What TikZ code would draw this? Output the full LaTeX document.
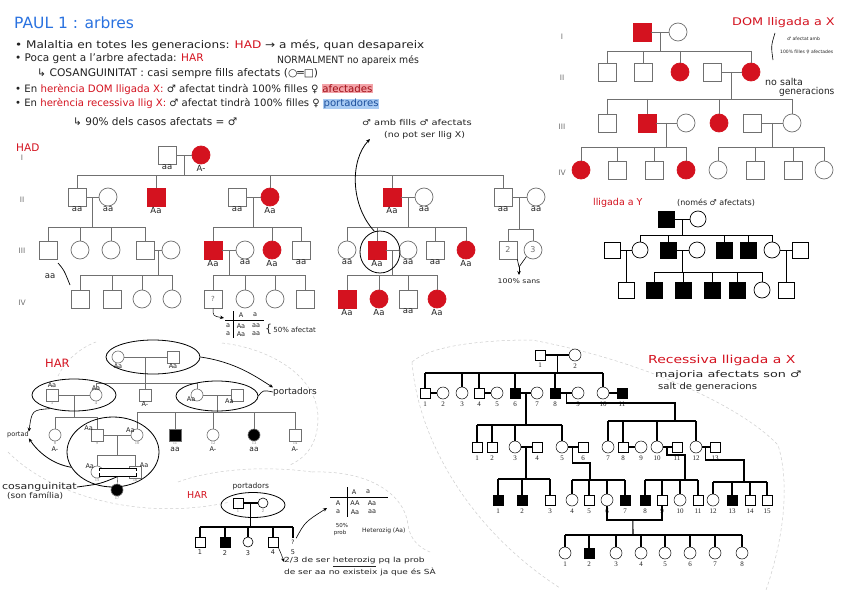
\documentclass[tikz,border=0pt]{standalone}
\usepackage{fontspec}
\usepackage{graphicx}
\setmainfont{DejaVu Sans}
\newfontfamily\numf{Liberation Serif}
\usetikzlibrary{shapes.geometric,arrows.meta,positioning,calc}
\definecolor{affred}{HTML}{D4121F}
\definecolor{titleblue}{HTML}{2A72E0}
\definecolor{pedgray}{HTML}{707070}
\definecolor{ink}{HTML}{222222}
\definecolor{hlred}{HTML}{F3A3A8}
\definecolor{hlblue}{HTML}{A8CBF3}
\definecolor{cutgray}{HTML}{CDCDCD}
\newcommand{\hlr}[1]{{\setlength{\fboxsep}{0.6pt}\colorbox{hlred}{\textcolor{affred!75!black}{#1}}}}
\newcommand{\hlb}[1]{{\setlength{\fboxsep}{0.6pt}\colorbox{hlblue}{\textcolor{titleblue!70!black}{#1}}}}
\newcommand{\hx}[2]{\scalebox{#1}[1]{#2}}

\begin{document}
\begin{tikzpicture}[x=1pt, y=-1pt,
  text=ink,
  >={Stealth[length=4pt, width=3.5pt]},
  hand/.style={anchor=west, inner sep=0pt, font=\fontsize{10.5}{12}\selectfont},
  note/.style={anchor=west, inner sep=0pt, font=\fontsize{7.5}{9}\selectfont},
  redt/.style={text=affred, inner sep=0pt, anchor=west},
  geno/.style={font=\fontsize{8.5}{8.5}\selectfont, inner sep=0.4pt},
  genlbl/.style={text=pedgray, font=\fontsize{7.5}{8}\selectfont},
  tinyn/.style={font=\fontsize{4.5}{5}\selectfont\numf, text=gray, inner sep=0.4pt},
  numl/.style={font=\fontsize{7}{8}\selectfont\numf, inner sep=0.5pt},
  sq/.style={rectangle, draw, fill=white, minimum size=#1pt, inner sep=0pt},
  sq/.default=18,
  ci/.style={circle, draw, fill=white, minimum size=#1pt, inner sep=0pt},
  ci/.default=18,
  aff/.style={fill=affred, draw=affred},
  blk/.style={fill=black},
  ring/.style={ellipse, draw=black, line width=0.8pt, inner sep=0pt},
  cut/.style={draw=cutgray, line width=0.5pt, dash pattern=on 3pt off 2.5pt}
]
\fill[white] (0,0) rectangle (848,599);
\useasboundingbox (0,0) rectangle (848,599);

% ---------- Notes ----------
\node[hand, text=titleblue, font=\fontsize{15.5}{17}\selectfont] (title) at (14,23) {PAUL 1 : arbres};
\node[hand] (l1) at (15,45) {\hx{1.15}{• Malaltia en totes les generacions: \textcolor{affred}{HAD} → a més, quan desapareix}};
\node[hand] (l2) at (15,59) {• Poca gent a l'arbre afectada: \textcolor{affred}{HAR}};
\node[hand, font=\fontsize{10}{12}\selectfont] (l2b) at (277,61) {\hx{0.93}{NORMALMENT no apareix més}};
\node[hand] (l3) at (37,74) {\hx{1.02}{↳ COSANGUINITAT : casi sempre fills afectats (○═□)}};
\node[hand, font=\fontsize{10.2}{12}\selectfont] (l4) at (15,89) {• En \textcolor{affred}{herència DOM lligada X:} ♂ afectat tindrà 100\% filles ♀ \hlr{afectades}};
\node[hand, font=\fontsize{10.1}{12}\selectfont] (l5) at (15,104) {• En \textcolor{affred}{herència recessiva llig X:} ♂ afectat tindrà 100\% filles ♀ \hlb{portadores}};
\node[hand] (l6) at (73,122) {↳ 90\% dels casos afectats = ♂};

% ---------- HAD ----------
\node[redt, font=\fontsize{10.5}{11}\selectfont] (hadt) at (16,148) {HAD};
\node[genlbl] (hgI) at (22,158) {I};
\node[genlbl] (hgII) at (22,200) {II};
\node[genlbl] (hgIII) at (22,251) {III};
\node[genlbl] (hgIV) at (22,303) {IV};

\begin{scope}[draw=pedgray, line width=0.7pt]
\node[sq, label={[geno]below:aa}] (hI1) at (167,155) {};
\node[ci, aff, label={[geno]below:A-}] (hI2) at (201,155) {};
\draw (hI1) -- (hI2);
\coordinate (hsI) at (184,175);
\draw ($(hI1)!.5!(hI2)$) -- (hsI);

\node[sq, label={[geno]below:aa}] (hII1) at (77,197) {};
\node[ci, label={[geno]below:aa}] (hII2) at (108,197) {};
\node[sq, aff, label={[geno]below:Aa}] (hII3) at (156,197) {};
\node[sq, label={[geno]below:aa}] (hII4) at (237,197) {};
\node[ci, aff, label={[geno]below:Aa}] (hII5) at (270,197) {};
\node[sq, aff, label={[geno]below:Aa}] (hII6) at (392,197) {};
\node[ci, label={[geno]below:aa}] (hII7) at (424,197) {};
\node[sq, label={[geno]below:aa}] (hII8) at (503,197) {};
\node[ci, label={[geno]below:aa}] (hII9) at (536,197) {};
\draw (hII1.north |- hsI) -- (hII8.north |- hsI);
\foreach \k in {hII1,hII3,hII5,hII6,hII8} \draw (\k.north |- hsI) -- (\k);
\draw (hII1) -- (hII2) (hII4) -- (hII5) (hII6) -- (hII7) (hII8) -- (hII9);

% generation III
\coordinate (hsA) at (92.5,227);
\coordinate (hsB) at (253.5,227);
\coordinate (hsC) at (408,227);
\coordinate (hsD) at (519.5,229);
\draw ($(hII1)!.5!(hII2)$) -- (hsA);
\draw ($(hII4)!.5!(hII5)$) -- (hsB);
\draw ($(hII6)!.5!(hII7)$) -- (hsC);
\draw ($(hII8)!.5!(hII9)$) -- (hsD);
\node[sq] (hIII1) at (48,250) {};
\node[ci] (hIII2) at (80,250) {};
\node[ci] (hIII3) at (111,250) {};
\node[sq] (hIII4) at (145,250) {};
\node[ci] (hIII5) at (171,250) {};
\node[sq, aff, label={[geno]below:Aa}] (hIII6) at (213,250) {};
\node[ci, label={[geno]below:aa}] (hIII7) at (245,250) {};
\node[ci, aff, label={[geno]below:Aa}] (hIII8) at (272,250) {};
\node[sq, label={[geno]below:aa}] (hIII9) at (301,250) {};
\node[ci, label={[geno]below:aa}] (hIII10) at (347,250) {};
\node[sq, aff, label={[geno]below:Aa}] (hIII11) at (377,250) {};
\node[ci, label={[geno]below:aa}] (hIII12) at (408,250) {};
\node[sq, label={[geno]below:aa}] (hIII13) at (435,250) {};
\node[ci, aff, label={[geno]below:Aa}] (hIII14) at (466,250) {};
\node[sq, font=\fontsize{8}{8}\selectfont, text=pedgray] (hIII15) at (508,250) {2};
\node[ci, font=\fontsize{8}{8}\selectfont, text=pedgray] (hIII16) at (533,250) {3};
\draw (hIII1.north |- hsA) -- (hIII4.north |- hsA);
\foreach \k in {hIII1,hIII2,hIII3,hIII4} \draw (\k.north |- hsA) -- (\k);
\draw (hIII6.north |- hsB) -- (hIII9.north |- hsB);
\foreach \k in {hIII6,hIII8,hIII9} \draw (\k.north |- hsB) -- (\k);
\draw (hIII10.north |- hsC) -- (hIII14.north |- hsC);
\foreach \k in {hIII10,hIII11,hIII13,hIII14} \draw (\k.north |- hsC) -- (\k);
\draw (hIII15.north |- hsD) -- (hIII16.north |- hsD);
\foreach \k in {hIII15,hIII16} \draw (\k.north |- hsD) -- (\k);
\draw (hIII4) -- (hIII5) (hIII6) -- (hIII7) (hIII11) -- (hIII12);

% generation IV
\coordinate (hsE) at (158,275);
\coordinate (hsF) at (229,275);
\coordinate (hsG) at (392.5,275);
\draw ($(hIII4)!.5!(hIII5)$) -- (hsE);
\draw ($(hIII6)!.5!(hIII7)$) -- (hsF);
\draw ($(hIII11)!.5!(hIII12)$) -- (hsG);
\node[sq] (hIV1) at (80,299) {};
\node[sq] (hIV2) at (112,299) {};
\node[ci] (hIV3) at (142,299) {};
\node[ci] (hIV4) at (172,299) {};
\node[sq, font=\fontsize{7}{7}\selectfont, text=pedgray] (hIV5) at (213,299) {?};
\node[ci] (hIV6) at (245,299) {};
\node[ci] (hIV7) at (275,299) {};
\node[sq] (hIV8) at (305,299) {};
\node[sq, aff, label={[geno]below:Aa}] (hIV9) at (347,299) {};
\node[ci, aff, label={[geno]below:Aa}] (hIV10) at (379,299) {};
\node[sq, label={[geno]below:aa}] (hIV11) at (408,299) {};
\node[ci, aff, label={[geno]below:Aa}] (hIV12) at (437,299) {};
\draw (hIV1.north |- hsE) -- (hIV4.north |- hsE);
\draw (hIV5.north |- hsF) -- (hIV8.north |- hsF);
\draw (hIV9.north |- hsG) -- (hIV12.north |- hsG);
\foreach \k in {hIV1,hIV2,hIV3,hIV4,hIV5,hIV6,hIV7,hIV8,hIV9,hIV10,hIV11,hIV12}
  \draw (\k.north |- hsE) -- (\k);
\end{scope}

% notes on the HAD tree
\node[geno, font=\fontsize{8.5}{8.5}\selectfont] (hslash) at (50,276) {aa};
\draw[line width=0.7pt] (58,263) .. controls (64,270) .. (70,285);
\node[ring, minimum width=40pt, minimum height=42pt] (hring) at (380,252) {};
\node[note, font=\fontsize{8}{9}\selectfont] (hnote1) at (362,123) {\hx{1.24}{♂ amb fills ♂ afectats}};
\node[note, font=\fontsize{8}{9}\selectfont] (hnote2) at (384,135) {\hx{1.17}{(no pot ser llig X)}};
\coordinate (harr) at (370,139);
\draw[->, line width=0.8pt] (hring.105) .. controls (350,205) and (350,160) .. (harr);
\coordinate (hsans) at (519,267);
\coordinate (hsans2) at (519,275);
\draw[line width=0.6pt] (hIII15.south east) -- (hsans) (hIII16.south west) -- (hsans);
\draw[->, line width=0.6pt] (hsans) -- (hsans2);
\node[geno, font=\fontsize{6.5}{7}\selectfont] (hsanst) at (519,281) {\hx{1.2}{100\% sans}};

% Punnett square under "?"
\coordinate (hpun) at (224,318);
\draw[->, line width=0.5pt] (hIV5.south) .. controls (213,316) .. (hpun);
\draw[line width=0.5pt] (233,311) -- (233,338);
\draw[line width=0.5pt] (225,320) -- (264,320);
\node[geno, font=\fontsize{6.5}{6}\selectfont] (hpA) at (241,315) {A};
\node[geno, font=\fontsize{6.5}{6}\selectfont] (hpa) at (255,315) {a};
\node[geno, font=\fontsize{6.5}{6}\selectfont] (hpr1) at (228,326) {a};
\node[geno, font=\fontsize{6.5}{6}\selectfont] (hp11) at (241,326) {Aa};
\node[geno, font=\fontsize{6.5}{6}\selectfont] (hp12) at (256,326) {aa};
\node[geno, font=\fontsize{6.5}{6}\selectfont] (hpr2) at (228,334) {a};
\node[geno, font=\fontsize{6.5}{6}\selectfont] (hp21) at (241,334) {Aa};
\node[geno, font=\fontsize{6.5}{6}\selectfont] (hp22) at (256,334) {aa};
\node[note, font=\fontsize{7}{7}\selectfont] (hp50) at (265,329) {{\fontsize{11}{11}\selectfont\{}\,50\% afectat};

% ---------- DOM lligada a X ----------
\node[genlbl] (dgI) at (562,37) {I};
\node[genlbl] (dgII) at (562,78) {II};
\node[genlbl] (dgIII) at (562,127) {III};
\node[genlbl] (dgIV) at (562,173) {IV};
\begin{scope}[draw=pedgray, line width=0.7pt]
\node[sq, aff] (dI1) at (642,32) {};
\node[ci] (dI2) at (678,32) {};
\draw (dI1) -- (dI2);
\coordinate (dsA) at (660,51);
\draw ($(dI1)!.5!(dI2)$) -- (dsA);
\node[sq] (dII1) at (607,72) {};
\node[sq] (dII2) at (643,72) {};
\node[ci, aff] (dII3) at (680,72) {};
\node[sq] (dII4) at (712,72) {};
\node[ci, aff] (dII5) at (751,72) {};
\draw (dII1.north |- dsA) -- (dII5.north |- dsA);
\foreach \k in {dII1,dII2,dII3,dII5} \draw (\k.north |- dsA) -- (\k);
\draw (dII4) -- (dII5);
\coordinate (dsB) at (731.5,99);
\draw ($(dII4)!.5!(dII5)$) -- (dsB);
\node[sq] (dIII1) at (607,123) {};
\node[sq, aff] (dIII2) at (647,123) {};
\node[ci] (dIII3) at (686,123) {};
\node[ci, aff] (dIII4) at (719,123) {};
\node[sq] (dIII5) at (752,123) {};
\node[ci] (dIII6) at (792,123) {};
\draw (dIII1.north |- dsB) -- (dIII6.north |- dsB);
\foreach \k in {dIII1,dIII2,dIII4,dIII6} \draw (\k.north |- dsB) -- (\k);
\draw (dIII2) -- (dIII3) (dIII5) -- (dIII6);
\coordinate (dsC) at (666.5,147);
\coordinate (dsD) at (772,147);
\draw ($(dIII2)!.5!(dIII3)$) -- (dsC);
\draw ($(dIII5)!.5!(dIII6)$) -- (dsD);
\node[ci, aff] (dIV1) at (581,170) {};
\node[sq] (dIV2) at (617,170) {};
\node[sq] (dIV3) at (654,170) {};
\node[ci, aff] (dIV4) at (686,170) {};
\node[ci] (dIV5) at (718,170) {};
\node[sq] (dIV6) at (755,170) {};
\node[sq] (dIV7) at (793,170) {};
\node[ci] (dIV8) at (824,170) {};
\draw (dIV1.north |- dsC) -- (dIV4.north |- dsC);
\draw (dIV5.north |- dsD) -- (dIV8.north |- dsD);
\foreach \k in {dIV1,dIV2,dIV3,dIV4,dIV5,dIV6,dIV7,dIV8} \draw (\k.north |- dsC) -- (\k);
\end{scope}
\node[redt, font=\fontsize{10.5}{11}\selectfont] (dtitle) at (732,23) {\hx{1.22}{DOM lligada a X}};
\draw[line width=0.6pt] (775,33) .. controls (771,46) .. (773,60);
\node[note, font=\fontsize{4.5}{5}\selectfont] (dnote1) at (787,39) {♂ afectat amb};
\node[note, font=\fontsize{4.5}{5}\selectfont] (dnote2) at (780,52) {100\% filles ♀ afectades};
\node[note, font=\fontsize{9.5}{10}\selectfont] (dnote3) at (765,82) {no salta};
\node[note, font=\fontsize{9.5}{10}\selectfont] (dnote4) at (779,92) {\hx{0.95}{generacions}};

% ---------- lligada a Y ----------
\node[redt, font=\fontsize{9.5}{10}\selectfont] (ytitle) at (593,203) {lligada a Y};
\node[note, font=\fontsize{8}{9}\selectfont] (ynote) at (677,203) {(només ♂ afectats)};
\begin{scope}[draw=black, line width=0.7pt]
\node[sq=16, blk] (yI1) at (666,219) {};
\node[ci=16] (yI2) at (698,219) {};
\draw (yI1) -- (yI2);
\coordinate (ysA) at (682,235);
\draw ($(yI1)!.5!(yI2)$) -- (ysA);
\node[sq=16] (yII1) at (612,250) {};
\node[ci=16] (yII2) at (640,250) {};
\node[sq=16, blk] (yII3) at (668,250) {};
\node[ci=16] (yII4) at (697,250) {};
\node[sq=16, blk] (yII5) at (724,250) {};
\node[sq=16, blk] (yII6) at (748,250) {};
\node[ci=16] (yII7) at (772,250) {};
\node[sq=16] (yII8) at (800,250) {};
\draw (yII2.north |- ysA) -- (yII7.north |- ysA);
\foreach \k in {yII2,yII3,yII5,yII6,yII7} \draw (\k.north |- ysA) -- (\k);
\draw (yII1) -- (yII2) (yII3) -- (yII4) (yII7) -- (yII8);
\coordinate (ysB) at (682.5,272);
\draw ($(yII3)!.5!(yII4)$) -- (ysB);
\node[sq=16] (yIII1) at (626,290) {};
\node[sq=16, blk] (yIII2) at (654,290) {};
\node[sq=16, blk] (yIII3) at (683,290) {};
\node[sq=16, blk] (yIII4) at (712,290) {};
\node[sq=16, blk] (yIII5) at (737,290) {};
\node[ci=16] (yIII6) at (762,290) {};
\node[sq=16] (yIII7) at (786,290) {};
\draw (yIII2.north |- ysB) -- (yIII6.north |- ysB);
\foreach \k in {yIII2,yIII3,yIII4,yIII5,yIII6} \draw (\k.north |- ysB) -- (\k);
\draw ($(yII1)!.5!(yII2)$) -- (yIII1);
\draw ($(yII7)!.5!(yII8)$) -- (yIII7);
\end{scope}

% ---------- HAR (cosanguinitat) ----------
\draw[cut] (58,376) .. controls (66,360) and (80,348) .. (96,342);
\draw[cut] (222,343) .. controls (268,348) and (318,375) .. (318,418) .. controls (318,445) and (305,458) .. (290,465);
\draw[cut] (8,452) .. controls (50,495) and (140,522) .. (230,502);
\node[redt, font=\fontsize{11.5}{12}\selectfont] (ctitle) at (45,363) {HAR};
\begin{scope}[draw=pedgray, line width=0.6pt, geno/.append style={font=\fontsize{6.5}{6.5}\selectfont}]
\node[ci=12, label={[geno]below:Aa}] (cI1) at (118,357) {};
\node[sq=12, label={[geno]below:Aa}] (cI2) at (173,357) {};
\draw (cI1) -- (cI2);
\coordinate (csA) at (145.5,383);
\draw ($(cI1)!.5!(cI2)$) -- (csA);
\node[sq=12, label={[geno]above:Aa}, label={[tinyn]below:3}] (cII1) at (52,395) {};
\node[ci=12, label={[geno, label distance=-3pt]above:Aa}, label={[tinyn]below:4}] (cII2) at (96,395) {};
\node[sq=12, label={[geno]below:A-}] (cII3) at (145,395) {};
\node[ci=12, label={[geno, label distance=-5pt]below left:Aa}] (cII4) at (197,395) {};
\node[sq=12, label={[geno, label distance=-5pt]below left:Aa}] (cII5) at (237,395) {};
\draw (cII2.north |- csA) -- (cII4.north |- csA);
\foreach \k in {cII2,cII3,cII4} \draw (\k.north |- csA) -- (\k);
\draw (cII1) -- (cII2) (cII4) -- (cII5);
\coordinate (csB) at (74,417);
\coordinate (csC) at (217,412);
\draw ($(cII1)!.5!(cII2)$) -- (csB);
\draw ($(cII4)!.5!(cII5)$) -- (csC);
\node[ci=12, label={[tinyn]below:8}, label={[geno, label distance=5pt]below:A-}] (cIII1) at (55,435) {};
\node[sq=12, label={[geno, label distance=-4pt]above left:Aa}, label={[tinyn]below:9}] (cIII2) at (97,435) {};
\node[ci=12, label={[geno, label distance=-4pt]above left:Aa}, label={[tinyn]below:10}] (cIII3) at (137,435) {};
\node[sq=12, blk, label={[tinyn]below:11}, label={[geno, font=\fontsize{7.5}{7}\selectfont, label distance=5pt]below:aa}] (cIII4) at (175,435) {};
\node[ci=12, label={[tinyn]below:12}, label={[geno, label distance=5pt]below:A-}] (cIII5) at (213,435) {};
\node[ci=12, blk, label={[tinyn]below:13}, label={[geno, font=\fontsize{7.5}{7}\selectfont, label distance=5pt]below:aa}] (cIII6) at (254,435) {};
\node[sq=12, label={[tinyn]below:14}, label={[geno, label distance=5pt]below:A-}] (cIII7) at (295,435) {};
\draw (cIII1.north |- csB) -- (cIII2.north |- csB);
\foreach \k in {cIII1,cIII2} \draw (\k.north |- csB) -- (\k);
\draw (cIII3.north |- csC) -- (cIII7.north |- csC);
\foreach \k in {cIII3,cIII4,cIII5,cIII6,cIII7} \draw (\k.north |- csC) -- (\k);
\draw (cIII2) -- (cIII3);
\coordinate (csD) at (117,455);
\draw ($(cIII2)!.5!(cIII3)$) -- (csD);
\node[ci=12, label={[geno, label distance=-3pt]above left:Aa}, label={[tinyn]below:15}] (cIV1) at (97,472) {};
\node[sq=12, label={[geno, label distance=-3pt]above right:Aa}, label={[tinyn]below:16}] (cIV2) at (135,472) {};
\draw (cIV1.north |- csD) -- (cIV2.north |- csD);
\foreach \k in {cIV1,cIV2} \draw (\k.north |- csD) -- (\k);
\node[draw=black, fill=white, line width=0.8pt, minimum width=37pt, minimum height=8pt, inner sep=0pt] (cbox) at (118,472) {};
\draw[black, line width=0.6pt, double, double distance=1.6pt] (cbox.west) -- (cbox.east);
\node[ci=12, blk, label={[tinyn]below:17}] (cIV3) at (117,490) {};
\draw (cbox) -- (cIV3);
\end{scope}
\node[ring, minimum width=94pt, minimum height=34pt] (cE1) at (153,357) {};
\node[ring, minimum width=84pt, minimum height=32pt] (cE2) at (74,395) {};
\node[ring, minimum width=82pt, minimum height=30pt] (cE3) at (217,396) {};
\node[ring, minimum width=92pt, minimum height=70pt] (cE4) at (113,452) {};
\node[note, font=\fontsize{9}{9}\selectfont] (cport) at (273,392) {portadors};
\node[note, font=\fontsize{6.5}{8}\selectfont] (cportad) at (7,435) {portad};
\node[note, font=\fontsize{9}{9}\selectfont] (ccos1) at (2,487) {\hx{1.22}{cosanguinitat}};
\node[note, font=\fontsize{8}{8}\selectfont] (ccos2) at (7,496) {\hx{1.12}{(son família)}};
\draw[->, line width=0.7pt] (cE1.east) .. controls (235,362) and (255,376) .. (cport.north west);
\draw[line width=0.6pt] (cE3.east) .. controls (263,390) .. (cport.west);
\draw[->, line width=0.6pt] (cE2.210) .. controls (32,410) .. (cportad.north east);
\draw[->, line width=0.8pt] (cE4.200) .. controls (52,464) and (38,452) .. (cportad.south east);
\draw[line width=0.8pt] (cbox.south) .. controls (100,484) .. (ccos1.east);

% ---------- HAR (portadors) ----------
\draw[cut] (178,482) .. controls (215,468) and (270,466) .. (312,472);
\draw[cut] (312,472) .. controls (370,470) and (405,495) .. (408,525) .. controls (410,540) and (420,548) .. (430,552);
\node[redt, font=\fontsize{9.5}{10}\selectfont] (ptitle) at (187,495) {HAR};
\node[ring, minimum width=64pt, minimum height=25pt] (pE) at (253,505) {};
\node[note, font=\fontsize{7.5}{8}\selectfont, fill=white, inner sep=0.5pt] (pport) at (232,486) {portadors};
\begin{scope}[draw=black, line width=1.1pt]
\node[sq=10, line width=0.6pt, label={[tinyn]below:1}] (pI1) at (238,503) {};
\node[ci=10, line width=0.6pt, label={[tinyn]below:2}] (pI2) at (263,503) {};
\draw (pI1) -- (pI2);
\coordinate (psA) at (250.5,527);
\draw ($(pI1)!.5!(pI2)$) -- (psA);
\node[sq=10, line width=0.6pt, label={[geno, font=\fontsize{6.5}{7}\selectfont, label distance=2pt]below:1}] (pII1) at (200,542) {};
\node[sq=10, blk, line width=0.6pt, label={[geno, font=\fontsize{6.5}{7}\selectfont, label distance=2pt]below:2}] (pII2) at (225,542) {};
\node[ci=10, line width=0.6pt, label={[geno, font=\fontsize{6.5}{7}\selectfont, label distance=2pt]below:3}] (pII3) at (248,542) {};
\node[sq=10, line width=0.6pt, label={[geno, font=\fontsize{6.5}{7}\selectfont, label distance=2pt]below:4}] (pII4) at (273,542) {};
\node[font=\fontsize{6}{6}\selectfont, inner sep=1pt, label={[geno, font=\fontsize{6.5}{7}\selectfont, label distance=3pt]below:5}] (pII5) at (293,542) {?};
\draw (pII1.north |- psA) -- (pII5.north |- psA);
\foreach \k in {pII1,pII2,pII3,pII4,pII5} \draw (\k.north |- psA) -- (\k);
\end{scope}
\coordinate (ppun) at (327,508);
\draw[->, line width=0.6pt] (pII5.north east) .. controls (305,522) .. (ppun);
\draw[line width=0.5pt] (347,487) -- (347,517);
\draw[line width=0.5pt] (330,497) -- (388,497);
\node[geno, font=\fontsize{6.5}{6}\selectfont] (ppA) at (354,492) {A};
\node[geno, font=\fontsize{6.5}{6}\selectfont] (ppa) at (368,492) {a};
\node[geno, font=\fontsize{6.5}{6}\selectfont] (ppr1) at (338,503) {A};
\node[geno, font=\fontsize{6.5}{6}\selectfont] (pp11) at (355,503) {AA};
\node[geno, font=\fontsize{6.5}{6}\selectfont] (pp12) at (372,503) {Aa};
\node[geno, font=\fontsize{6.5}{6}\selectfont] (ppr2) at (338,512) {a};
\node[geno, font=\fontsize{6.5}{6}\selectfont] (pp21) at (355,512) {Aa};
\node[geno, font=\fontsize{6.5}{6}\selectfont] (pp22) at (372,512) {aa};
\node[geno, font=\fontsize{5.5}{6}\selectfont] (pp50) at (342,525) {50\%};
\node[geno, font=\fontsize{5.5}{6}\selectfont] (ppprob) at (340,533) {prob};
\node[note, font=\fontsize{6}{7}\selectfont] (pphet) at (362,531) {Heterozig (Aa)};
\node[note, font=\fontsize{7}{7}\selectfont] (pnote1) at (284,562) {\hx{1.3}{2/3 de ser \underline{heterozig} pq la prob}};
\node[note, font=\fontsize{7}{7}\selectfont] (pnote2) at (284,572) {\hx{1.28}{de ser aa no existeix ja que és SÀ}};
\draw[->, line width=0.5pt] (pII4.south east) .. controls (282,556) .. (pnote1.west);

% ---------- Recessiva lligada a X ----------
\draw[cut] (412,362) .. controls (430,346) and (480,340) .. (532,340) .. controls (640,360) and (740,405) .. (778,445) .. controls (792,490) and (780,550) .. (766,590);
\draw[cut] (412,362) .. controls (418,440) and (470,530) .. (560,588);
\node[redt, font=\fontsize{11}{12}\selectfont] (rtitle) at (648,360) {\hx{1.27}{Recessiva lligada a X}};
\node[note, font=\fontsize{9}{9}\selectfont] (rnote1) at (655,375) {\hx{1.42}{majoria afectats son ♂}};
\node[note, font=\fontsize{9}{9}\selectfont] (rnote2) at (658,387) {\hx{1.12}{salt de generacions}};
\begin{scope}[draw=black, line width=1.1pt, sq/.default=10.5, ci/.default=12]
\node[sq, line width=0.5pt, label={[numl, label distance=1.5pt]below:1}] (rI1) at (540,355) {};
\node[ci, line width=0.5pt, label={[numl, label distance=1.5pt]below:2}] (rI2) at (575,355) {};
\draw (rI1) -- (rI2);
\coordinate (rsA) at (557.5,373);
\draw ($(rI1)!.5!(rI2)$) -- (rsA);
% generation II
\foreach \n/\x/\s in {1/425/sq,2/443/ci,3/462/ci,4/479/sq,5/497/ci,6/515/sq,7/537/ci,8/555/sq,9/578/ci,10/603/ci,11/622/sq}
  \node[\s, line width=0.5pt, label={[numl, label distance=2pt]below:\n}] (rII\n) at (\x,393) {};
\foreach \n in {6,8,11} \node[sq, blk, line width=0.5pt] (rII\n) at (rII\n) {};
\draw (rII1.north |- rsA) -- (rII10.north |- rsA);
\foreach \k in {rII1,rII3,rII4,rII6,rII8,rII10} \draw (\k.north |- rsA) -- (\k);
\draw (rII1) -- (rII2) (rII4) -- (rII5) (rII6) -- (rII7) (rII8) -- (rII9) (rII10) -- (rII11);
\coordinate (rsB) at (526,425);
\coordinate (rkC) at (675,403);
\coordinate (rsC) at (675,421);
\draw ($(rII6)!.5!(rII7)$) -- (rsB);
\draw ($(rII8)!.5!(rII9)$) |- (rkC) -- (rsC);
% generation III
\foreach \n/\x/\s in {1/477/sq,2/492/sq,3/515/ci,4/537/sq,5/562/ci,6/583/sq,7/608/ci,8/623/sq,9/641/ci,10/657/ci,11/677/sq,12/696/ci,13/715/sq}
  \node[\s, line width=0.5pt, label={[numl, label distance=2pt]below:\n}] (rIII\n) at (\x,447) {};
\draw (rIII1.north |- rsB) -- (rIII5.north |- rsB);
\foreach \k in {rIII1,rIII2,rIII3,rIII5} \draw (\k.north |- rsB) -- (\k);
\draw (rIII7.north |- rsC) -- (rIII12.north |- rsC);
\foreach \k in {rIII7,rIII8,rIII10,rIII12} \draw (\k.north |- rsC) -- (\k);
\draw (rIII3) -- (rIII4) (rIII5) -- (rIII6) (rIII8) -- (rIII9) (rIII10) -- (rIII11) (rIII12) -- (rIII13);
\coordinate (rsD) at (526,479);
\coordinate (rkE) at (590,463);
\coordinate (rsE) at (590,480);
\coordinate (rkF) at (685,455);
\coordinate (rsF) at (685,480);
\coordinate (rkG) at (744,460);
\coordinate (rsG) at (744,482);
\draw ($(rIII3)!.5!(rIII4)$) -- (rsD);
\draw ($(rIII5)!.5!(rIII6)$) |- (rkE) -- (rsE);
\draw ($(rIII10)!.5!(rIII11)$) |- (rkF) -- (rsF);
\draw ($(rIII12)!.5!(rIII13)$) |- (rkG) -- (rsG);
% generation IV
\foreach \n/\x/\s in {1/498/sq,2/522/sq,3/550/sq,4/572/ci,5/589/sq,6/607/ci,7/625/sq,8/645/sq,9/662/sq,10/680/ci,11/698/sq,12/713/ci,13/732/sq,14/750/sq,15/767/sq}
  \node[\s, line width=0.5pt, label={[numl, label distance=2pt]below:\n}] (rIV\n) at (\x,500) {};
\foreach \n in {1,2,7,8,13} \node[sq, blk, line width=0.5pt] (rIV\n) at (rIV\n) {};
\draw (rIV1.north |- rsD) -- (rIV3.north |- rsD);
\draw (rIV4.north |- rsE) -- (rIV7.north |- rsE);
\draw (rIV8.north |- rsF) -- (rIV11.north |- rsF);
\draw (rIV12.north |- rsG) -- (rIV15.north |- rsG);
\foreach \k in {rIV1,rIV2,rIV3} \draw (\k.north |- rsD) -- (\k);
\foreach \k in {rIV4,rIV5,rIV6,rIV7} \draw (\k.north |- rsE) -- (\k);
\foreach \k in {rIV8,rIV9,rIV10,rIV11} \draw (\k.north |- rsF) -- (\k);
\foreach \k in {rIV12,rIV13,rIV14,rIV15} \draw (\k.north |- rsG) -- (\k);
\coordinate (rmA) at (607,520);
\coordinate (rmB) at (662,520);
\coordinate (rsH) at (633,535);
\draw (rIV6) -- (rmA) -- (rmB) -- (rIV9);
\draw ($(rmA)!.47!(rmB)$) -- (rsH);
% generation V
\foreach \n/\x/\s in {1/565/ci,2/589/sq,3/616/ci,4/641/ci,5/665/ci,6/690/ci,7/715/ci,8/742/ci}
  \node[\s, line width=0.5pt, label={[numl, label distance=2pt]below:\n}] (rV\n) at (\x,553) {};
\node[sq, blk, line width=0.5pt] (rV2) at (rV2) {};
\draw (rV1.north |- rsH) -- (rV8.north |- rsH);
\foreach \k in {rV1,rV2,rV3,rV4,rV5,rV6,rV7,rV8} \draw (\k.north |- rsH) -- (\k);
\end{scope}
\end{tikzpicture}
\end{document}
